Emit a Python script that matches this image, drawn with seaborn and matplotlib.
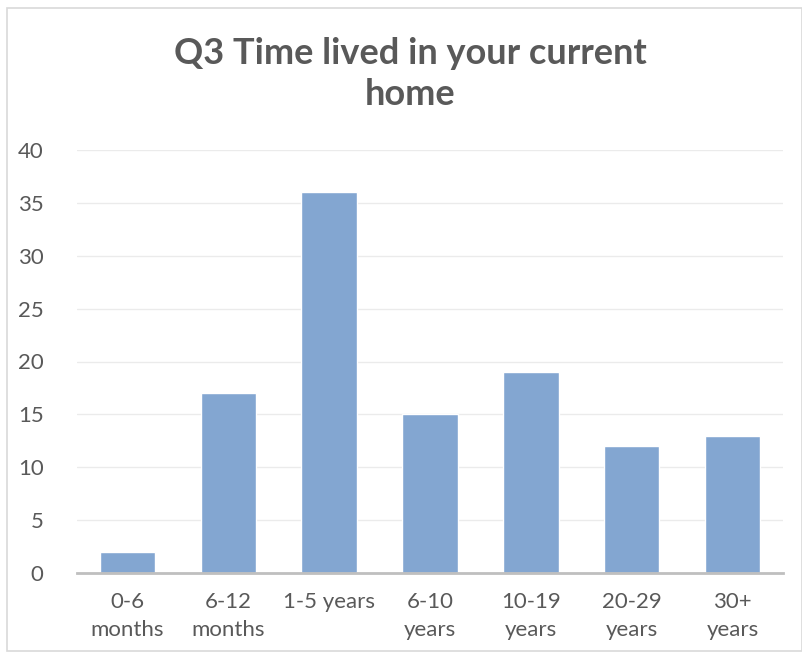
import matplotlib
matplotlib.use("Agg")
import matplotlib.pyplot as plt
import seaborn as sns
import pandas as pd
from matplotlib.patches import Rectangle

categories = ["0-6\nmonths", "6-12\nmonths", "1-5 years", "6-10\nyears",
              "10-19\nyears", "20-29\nyears", "30+\nyears"]
values = [2, 17, 36, 15, 19, 12, 13]
yticks = [0, 5, 10, 15, 20, 25, 30, 35, 40]
title = "Q3 Time lived in your current\nhome"

sns.set_theme(style="white")
plt.rcParams['font.family'] = ['Lato', 'DejaVu Sans']

df = pd.DataFrame({"cat": categories, "val": values})

fig = plt.figure(figsize=(8.03, 6.6), dpi=100)
ax = fig.add_axes([77/803, 1-573/660, (783-77)/803, (573-150)/660])

sns.barplot(data=df, x="cat", y="val", color="#83A6D1", saturation=1,
            width=0.55, ax=ax)

ax.set_ylim(0, 40)
ax.set_xlim(-0.5, len(categories)-0.5)
ax.set_yticks(yticks)
ax.set_yticklabels([str(t) for t in yticks])
ax.yaxis.grid(True, color="#EBEBEB", linewidth=1)
ax.set_axisbelow(True)
for s in ["top", "right", "left"]:
    ax.spines[s].set_visible(False)
ax.spines["bottom"].set_color("#BFBFBF")
ax.spines["bottom"].set_linewidth(2)
ax.set_xlabel("")
ax.set_ylabel("")
ax.tick_params(axis="both", length=0, labelsize=16, colors="#595959")
ax.tick_params(axis="y", pad=24)
ax.tick_params(axis="x", pad=14)
for lab in ax.get_xticklabels():
    lab.set_linespacing(1.45)

fig.text(410/803, 1-74/660, title, ha="center", va="center",
         fontsize=26, fontweight="bold", color="#595959", linespacing=1.3)

fig.patches.append(Rectangle((7/803, 1-651/660), (802-7)/803, (651-8)/660,
                             transform=fig.transFigure, fill=False,
                             edgecolor="#D9D9D9", linewidth=1.2))

fig.savefig("out.png", dpi=100, facecolor="white")
